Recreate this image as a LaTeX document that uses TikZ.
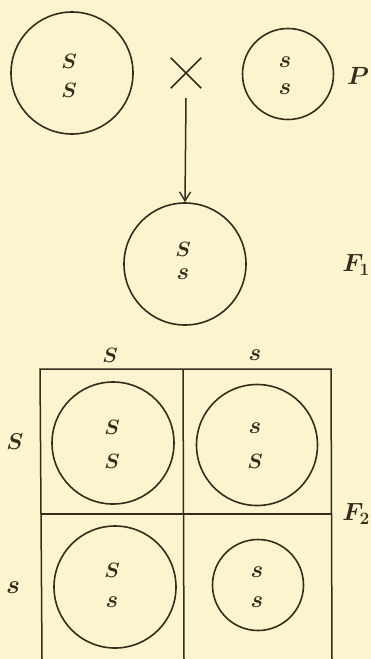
\documentclass[tikz,border=0pt]{standalone}
\usepackage{bm}
\usetikzlibrary{arrows.meta}
\definecolor{paper}{RGB}{252,244,206}
\definecolor{ink}{RGB}{58,42,28}
\newcommand{\capS}{$\bm{S}$}
\newcommand{\lows}{\scalebox{1.15}{$\bm{s}$}}
\begin{document}
\begin{tikzpicture}[x=1pt,y=-1pt,
  every node/.style={text=ink},
  gam/.style={circle,draw=ink,line width=1.6pt,inner sep=0pt,minimum size=#1},
  let/.style={font=\fontsize{20}{24}\selectfont,inner sep=0pt},
  gen/.style={font=\fontsize{28}{32}\selectfont,inner sep=0pt},
  fgen/.style={font=\fontsize{26}{30}\selectfont,inner sep=0pt,anchor=east},
  grid line/.style={draw=ink,line width=1.5pt},
  conn/.style={draw=ink,line width=1.5pt,-{Straight Barb[length=9pt,width=11pt,line width=1.4pt]}}]
\fill[paper] (0,0) rectangle (371,659);
\useasboundingbox (0,0) rectangle (371,659);
% P generation
\node[gam=122pt] (p1) at (72,73) {};
\node[let] (p1a) at (69,61) {\capS};
\node[let] (p1b) at (69,90) {\capS};
\node[inner sep=0pt,minimum size=30pt] (cross) at (186,73) {};
\draw[ink,line width=1.7pt] (cross.north west) -- (cross.south east) (cross.north east) -- (cross.south west);
\node[gam=91pt] (p2) at (288,74) {};
\node[let] (p2a) at (285,62) {\lows};
\node[let] (p2b) at (285,89) {\lows};
\node[gen] (pgen) at (358,76) {$\bm{P}$};
% arrow
\coordinate (astart) at (186,98);
\node[gam=122pt] (f1) at (185,264) {};
\draw[conn] (astart) -- (f1.north);
\node[let] (f1a) at (183,249) {\capS};
\node[let] (f1b) at (183,274) {\lows};
\node[fgen] (fone) at (370,265) {$\bm{F}_{\bm{1}}$};
% F2 grid
\coordinate (g00) at (40,369);
\coordinate (g10) at (183,369);
\coordinate (g20) at (331,369);
\coordinate (g01) at (41,514);
\coordinate (g21) at (331,514);
\coordinate (g02) at (42,659);
\coordinate (g12) at (184,659);
\coordinate (g22) at (332,659);
\draw[grid line] (g02) -- (g00) -- (g20) -- (g22);
\draw[grid line] (g10) -- (g12);
\draw[grid line] (g01) -- (g21);
\node[let] (c1) at (110,355) {\capS};
\node[let] (c2) at (255,355) {\lows};
\node[let] (r1) at (15,442) {\scalebox{1.1}{\capS}};
\node[let] (r2) at (13,588) {\scalebox{1.1}{\lows}};
\node[fgen] (ftwo) at (370,514) {$\bm{F}_{\bm{2}}$};
% cells
\node[gam=122pt] (tl) at (113,443) {};
\node[let] (tla) at (112,427) {\capS};
\node[let] (tlb) at (112,461) {\capS};
\node[gam=121pt] (tr) at (257,445) {};
\node[let] (tra) at (255,428) {\lows};
\node[let] (trb) at (255,461) {\capS};
\node[gam=122pt] (bl) at (115,587) {};
\node[let] (bla) at (112,570) {\capS};
\node[let] (blb) at (112,602) {\lows};
\node[gam=91pt] (br) at (258,585) {};
\node[let] (bra) at (257,572) {\lows};
\node[let] (brb) at (257,602) {\lows};
\end{tikzpicture}
\end{document}
